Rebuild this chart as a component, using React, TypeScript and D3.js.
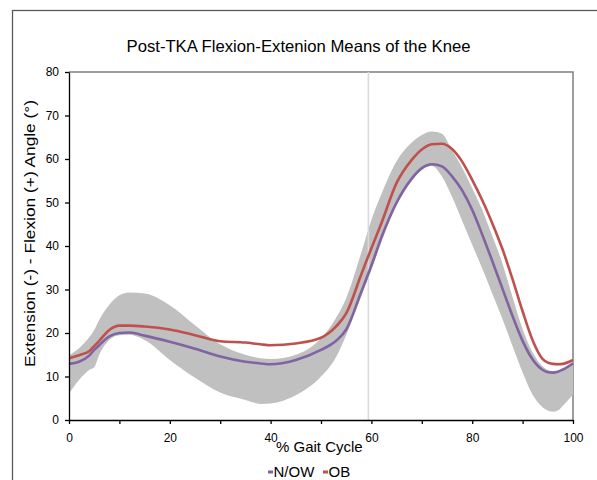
import React, { useEffect, useRef } from 'react';
import * as d3 from 'd3';

// % of gait cycle where the curves were sampled
const gaitPct = [0, 2, 4, 5, 6, 8, 10, 12, 15, 20, 25, 30, 35, 38, 40, 45, 50, 53, 55, 58, 60, 62, 65, 68, 70, 72, 74, 76, 78, 80, 82, 84, 86, 88, 90, 92, 94, 95, 96, 97, 98, 100];

// N/OW mean (purple)
const nowMean = [12.9, 13.4, 14.8, 16.1, 17.2, 19.2, 20.0, 20.1, 19.4, 18.0, 16.4, 14.6, 13.4, 13.0, 12.8, 13.8, 16.1, 18.2, 20.8, 29.5, 35.5, 42.0, 50.0, 55.5, 57.9, 58.8, 58.3, 56.0, 52.8, 48.3, 42.6, 36.5, 30.2, 23.9, 18.2, 13.9, 11.5, 11.0, 10.9, 11.1, 11.6, 13.0];

// OB mean (red)
const obMean = [14.2, 14.9, 15.8, 17.0, 18.2, 20.7, 21.7, 21.7, 21.5, 20.8, 19.5, 18.1, 17.8, 17.4, 17.2, 17.6, 18.9, 21.5, 24.5, 33.5, 39.5, 45.3, 54.5, 59.8, 62.2, 63.4, 63.5, 62.3, 59.4, 55.2, 50.5, 45.2, 39.3, 32.4, 25.0, 18.3, 14.0, 13.2, 12.9, 12.8, 12.9, 13.8];

// grey band (N/OW spread)
const bandUpper = [14.9, 16.5, 19.0, 20.7, 23.0, 26.5, 28.7, 29.3, 29.1, 26.4, 21.8, 17.4, 15.0, 14.2, 14.0, 15.0, 18.8, 23.5, 28.0, 38.5, 46.0, 52.0, 59.5, 63.8, 65.5, 66.3, 65.8, 62.0, 58.0, 53.3, 48.3, 42.3, 36.0, 28.3, 20.9, 15.5, 12.3, 11.5, 11.1, 11.3, 11.8, 13.6];
const bandLower = [6.1, 9.2, 11.5, 12.1, 15.0, 18.4, 19.5, 19.6, 18.4, 13.8, 9.7, 6.3, 4.6, 3.7, 3.8, 5.7, 10.0, 14.5, 19.5, 28.5, 34.5, 41.0, 49.3, 55.0, 57.5, 58.4, 56.0, 51.3, 45.8, 40.3, 34.8, 29.0, 23.2, 17.0, 10.9, 5.8, 2.9, 2.2, 1.9, 2.2, 3.3, 5.8];

const xTicks = [0, 10, 20, 30, 40, 50, 60, 70, 80, 90, 100];
const yTicks = [0, 10, 20, 30, 40, 50, 60, 70, 80];
const toeOff = 59.4;

const font = "'Liberation Sans', Arial, sans-serif";

const drawChart = (svgEl: SVGSVGElement) => {
	const svg = d3.select(svgEl);
	svg.selectAll('*').remove();

	const left = 69, right = 573, top = 72, bottom = 420;
	const x = d3.scaleLinear().domain([0, 100]).range([left, right]);
	const y = d3.scaleLinear().domain([0, 80]).range([bottom, top]);

	// outer frame
	svg.append('rect')
		.attr('x', 12.5).attr('y', 10.5)
		.attr('width', 620).attr('height', 520)
		.attr('fill', 'none').attr('stroke', '#5a5a5a').attr('stroke-width', 1.3);

	svg.append('text')
		.text('Post-TKA Flexion-Extenion Means of the Knee')
		.attr('x', 298.5).attr('y', 52)
		.attr('text-anchor', 'middle')
		.attr('textLength', 344).attr('lengthAdjust', 'spacingAndGlyphs')
		.style('font-family', font).style('font-size', '16.5px');

	// plot area top / right edges
	svg.append('path')
		.attr('d', `M${left},${top}H${right}V${bottom}`)
		.attr('fill', 'none').attr('stroke', '#808080').attr('stroke-width', 1.5);

	const idx = d3.range(gaitPct.length);

	const band = d3.area<number>()
		.x(i => x(gaitPct[i]))
		.y0(i => y(bandLower[i]))
		.y1(i => y(bandUpper[i]))
		.curve(d3.curveMonotoneX);
	svg.append('path').attr('d', band(idx)).attr('fill', '#c0c0c0');

	svg.append('line')
		.attr('x1', x(toeOff)).attr('x2', x(toeOff))
		.attr('y1', top).attr('y2', bottom)
		.attr('stroke', '#d9d9d9').attr('stroke-width', 1.6);

	const line = (vals: number[]) => d3.line<number>()
		.x(i => x(gaitPct[i]))
		.y(i => y(vals[i]))
		.curve(d3.curveMonotoneX)(idx);

	svg.append('path').attr('d', line(nowMean))
		.attr('fill', 'none').attr('stroke', '#8064a2').attr('stroke-width', 2.6);
	svg.append('path').attr('d', line(obMean))
		.attr('fill', 'none').attr('stroke', '#c0504d').attr('stroke-width', 2.6);

	// axes
	const yAxis = d3.axisLeft(y).tickValues(yTicks).tickSizeInner(4).tickSizeOuter(0).tickPadding(6);
	const gy = svg.append('g').attr('transform', `translate(${left},0)`).call(yAxis);
	const xAxis = d3.axisBottom(x).tickValues(xTicks).tickSizeInner(4).tickSizeOuter(0).tickPadding(9)
		.tickFormat(d => (+d % 20 === 0 ? String(d) : ''));
	const gx = svg.append('g').attr('transform', `translate(0,${bottom})`).call(xAxis);

	[gx, gy].forEach(g => {
		g.selectAll('path,line').attr('stroke', '#000').attr('stroke-width', 1.3);
		g.selectAll('text').style('font-family', font).style('font-size', '12px').attr('fill', '#000');
	});

	svg.append('text')
		.text('% Gait Cycle')
		.attr('x', 276).attr('y', 452)
		.style('font-family', font).style('font-size', '15px');

	svg.append('text')
		.text('Extension (-) - Flexion (+) Angle (°)')
		.attr('transform', 'translate(35,233.5) rotate(-90)')
		.attr('text-anchor', 'middle')
		.attr('textLength', 267).attr('lengthAdjust', 'spacingAndGlyphs')
		.style('font-family', font).style('font-size', '15px');

	// legend
	const legend = [
		{ name: 'N/OW', color: '#8064a2', x: 268 },
		{ name: 'OB', color: '#c0504d', x: 323 },
	];
	legend.forEach(l => {
		svg.append('rect').attr('x', l.x).attr('y', 470.5).attr('width', 5).attr('height', 3).attr('fill', l.color);
		svg.append('text').text(l.name)
			.attr('x', l.x + 5.5).attr('y', 477)
			.style('font-family', font).style('font-size', '15px');
	});
};

const App = () => {
	const ref = useRef<SVGSVGElement>(null);
	useEffect(() => {
		if (ref.current) drawChart(ref.current);
	}, []);
	return (
		<svg ref={ref} width={597} height={480}
			style={{ position: 'absolute', left: 0, top: 0, background: '#fff' }} />
	);
};

export default App;
